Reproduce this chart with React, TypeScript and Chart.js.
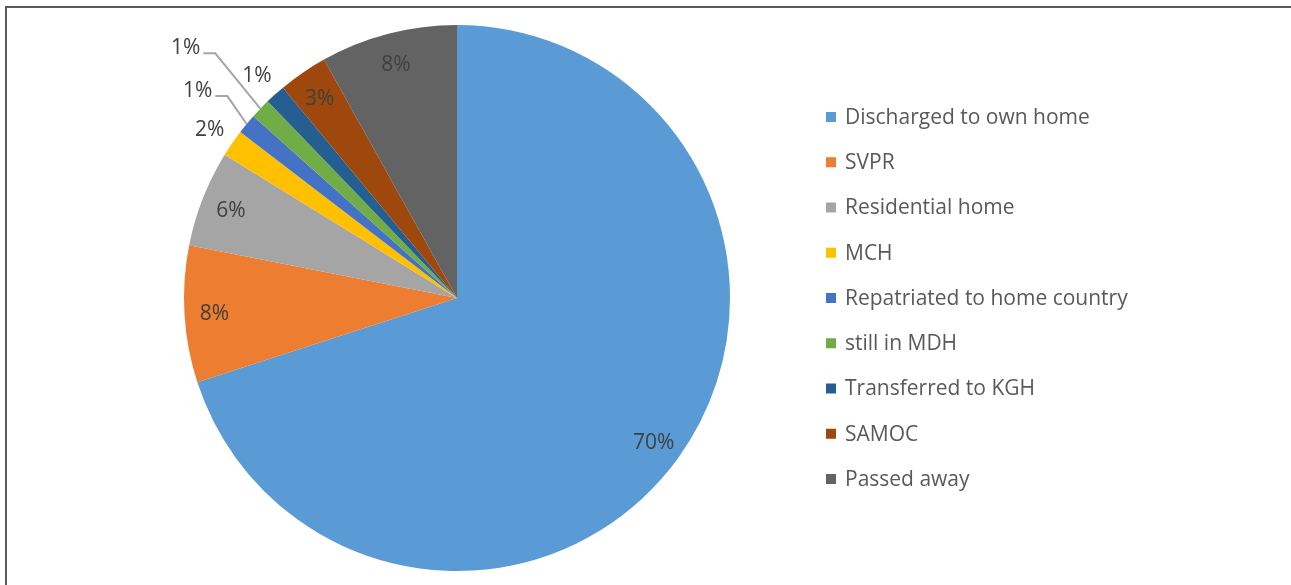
import React, { useEffect, useRef } from "react";
import { Chart, registerables } from "chart.js";

Chart.register(...registerables);

const categories = [
  "Discharged to own home",
  "SVPR",
  "Residential home",
  "MCH",
  "Repatriated to home country",
  "still in MDH",
  "Transferred to KGH",
  "SAMOC",
  "Passed away",
];
const values = [70, 8.1, 5.7, 1.6, 1.2, 1.2, 1.2, 2.9, 8.1];
const colors = [
  "#5B9BD5",
  "#ED7D31",
  "#A5A5A5",
  "#FFC000",
  "#4472C4",
  "#70AD47",
  "#255E91",
  "#9E480E",
  "#636363",
];
// label placement: "in" inside slice, "out" just outside, "leader" outside with leader line
const labelModes = ["in", "in", "in", "out", "leader", "leader", "out", "in", "in"];
const leaderElbowRadius = [0, 0, 0, 0, 1.12, 1.26, 0, 0, 0];
const leaderElbowShift = [0, 0, 0, 0, 0.03, 0.025, 0, 0, 0];

const FONT = "'Open Sans', 'Noto Sans', sans-serif";

const labelPlugin = {
  id: "pieLabels",
  afterDatasetsDraw(chart: any) {
    const ctx = chart.ctx;
    const meta = chart.getDatasetMeta(0);
    const total = values.reduce((a, b) => a + b, 0);
    ctx.save();
    ctx.font = `21px ${FONT}`;
    ctx.fillStyle = "#404040";
    ctx.textBaseline = "middle";
    meta.data.forEach((arc: any, i: number) => {
      const { x, y, startAngle, endAngle, outerRadius } = arc.getProps(
        ["x", "y", "startAngle", "endAngle", "outerRadius"],
        true
      );
      const mid = (startAngle + endAngle) / 2;
      const txt = Math.round((values[i] / total) * 100) + "%";
      const mode = labelModes[i];
      if (mode === "in" || mode === "out") {
        const f = mode === "in" ? 0.89 : 1.1;
        ctx.textAlign = "center";
        ctx.fillText(txt, x + Math.cos(mid) * outerRadius * f, y + Math.sin(mid) * outerRadius * f + 2);
      } else {
        const sx = x + Math.cos(mid) * outerRadius;
        const sy = y + Math.sin(mid) * outerRadius;
        const ea = mid + leaderElbowShift[i];
        const ex = x + Math.cos(ea) * outerRadius * leaderElbowRadius[i];
        const ey = y + Math.sin(ea) * outerRadius * leaderElbowRadius[i];
        const hx = ex - 12;
        ctx.strokeStyle = "#A6A6A6";
        ctx.lineWidth = 2;
        ctx.beginPath();
        ctx.moveTo(sx, sy);
        ctx.lineTo(ex, ey);
        ctx.lineTo(hx, ey);
        ctx.stroke();
        ctx.textAlign = "right";
        ctx.fillText(txt, hx - 3, ey - 5);
      }
    });
    ctx.restore();
  },
};

const legendPlugin = {
  id: "customLegend",
  afterDraw(chart: any) {
    const ctx = chart.ctx;
    ctx.save();
    ctx.font = `21px ${FONT}`;
    ctx.textBaseline = "middle";
    ctx.textAlign = "left";
    const x0 = 826;
    const y0 = 117;
    const step = 45.25;
    categories.forEach((c, i) => {
      const cy = y0 + i * step;
      ctx.fillStyle = colors[i];
      ctx.fillRect(x0, cy - 5, 10, 10);
      ctx.fillStyle = "#595959";
      ctx.fillText(c, x0 + 19, cy + 1);
    });
    ctx.restore();
  },
};

export default function App() {
  const ref = useRef<HTMLCanvasElement | null>(null);
  useEffect(() => {
    document.body.style.margin = "0";
    if (!ref.current) return;
    const chart = new Chart(ref.current, {
      type: "pie",
      data: {
        labels: categories,
        datasets: [
          {
            data: values,
            backgroundColor: colors,
            borderWidth: 0,
          },
        ],
      },
      options: {
        animation: false,
        responsive: false,
        maintainAspectRatio: false,
        layout: { padding: { left: 184, right: 561, top: 25, bottom: 14 } },
        plugins: {
          legend: { display: false },
          tooltip: { enabled: false },
        },
      },
      plugins: [labelPlugin, legendPlugin],
    });
    return () => chart.destroy();
  }, []);
  return (
    <div style={{ position: "relative", width: 1291, height: 585, overflow: "hidden", background: "#fff" }}>
      <div
        style={{
          position: "absolute",
          left: 5,
          top: 6,
          width: 1300,
          height: 600,
          borderLeft: "2px solid #595959",
          borderTop: "2px solid #595959",
        }}
      />
      <canvas ref={ref} width={1291} height={585} style={{ position: "absolute", left: 0, top: 0 }} />
    </div>
  );
}
